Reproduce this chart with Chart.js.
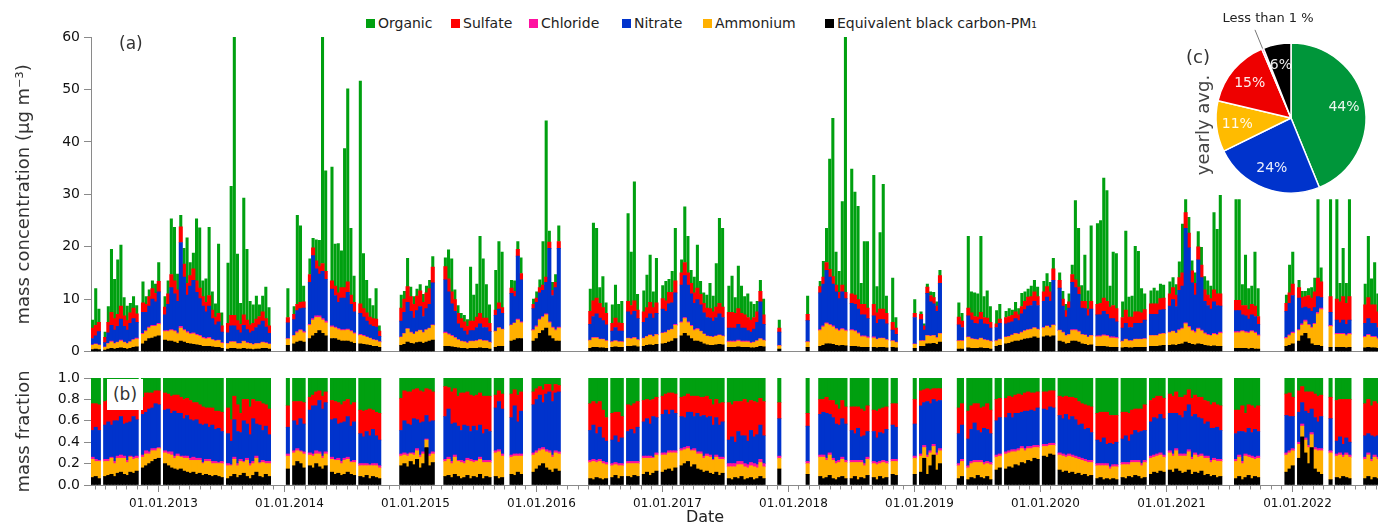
<!DOCTYPE html>
<html>
<head>
<meta charset="utf-8">
<script src="https://cdn.jsdelivr.net/npm/chart.js@4.4.1/dist/chart.umd.min.js"></script>
<style>
    html, body { margin: 0; padding: 0; background: #fff; }
    body { width: 1378px; height: 524px; position: relative; overflow: hidden;
           font-family: "DejaVu Sans", sans-serif; color: #333; }
    canvas { position: absolute; }
    #massChart { left: 0; top: 0; }
    #fracChart { left: 0; top: 360px; }
    #pieChart { left: 1196px; top: 23px; }
    .txt { position: absolute; white-space: nowrap; }
    .legend-item { position: absolute; top: 14px; height: 18px; display: flex; align-items: center;
                   font-size: 14px; color: #222; white-space: nowrap; }
    .legend-item i { display: inline-block; width: 9px; height: 9px; margin-right: 3px; }
</style>
</head>
<body>
<div id="legend"></div>
<canvas id="massChart" width="1378" height="364"></canvas>
<canvas id="fracChart" width="1378" height="164"></canvas>
<canvas id="pieChart" width="190" height="190"></canvas>

<div class="txt" style="left:119px; top:33px; font-size:17px;">(a)</div>
<div class="txt" style="left:107px; top:379px; width:36px; height:31px; line-height:31px; text-align:center; background:#fff; font-size:17px;">(b)</div>
<div class="txt" style="left:1186px; top:46px; font-size:18px;">(c)</div>
<div class="txt" style="left:1202px; top:125px; font-size:18px; color:#444; transform:translate(-50%,-50%) rotate(-90deg);">yearly avg.</div>
<div class="txt" style="left:1268px; top:17px; font-size:13px; color:#222; transform:translate(-50%,-50%);">Less than 1 %</div>
<div class="txt" style="left:705px; top:516px; font-size:16px; color:#222; transform:translate(-50%,-50%);">Date</div>

<script>
(function (Chart) {
    "use strict";

    // sampling grid: one value every 0.025 yr (about 9 days) from mid 2012
    var t0 = 2012.4375, dt = 0.025, nGrid = 409;
    var xMin = 2012.425, xMax = 2022.639;

    // grid indices without data (first..last)
    var gaps = [[3,3],[15,15],[22,22],[42,42],[57,61],[63,63],[68,68],[75,75],[84,84],[92,97],
        [109,111],[127,127],[131,132],[137,139],[149,157],[164,164],[169,169],[174,174],[180,180],
        [186,186],[201,201],[214,217],[219,226],[228,230],[240,240],[247,247],[253,253],[256,260],
        [262,262],[270,274],[277,277],[286,286],[289,289],[301,301],[306,306],[318,318],[326,326],
        [335,335],[341,341],[359,362],[371,378],[382,382],[391,392],[394,394],[400,403]];

    // (a) mass concentrations, µg m-3, one line per measurement block
    var organic = [
        1.5,7,2.5,1,3,12,7.5,10.4,11.6,3.5,2.8,1.8,2.2,1.6, 4,1.5,1.3,1.5,1.8,3.6,
        2,2.5,10.6,10.2,3,2.2,3,8.7,2.5,3,11.8,11.5,3,4.5,13,3.5,2.5,13.2,2.5,
        11.5,24.6,56,12.7,4,22.3,13.5,4.5,3.5,4.4,2.2,3,6,3.5,
        5.5, 1.5,17,14.6,3, 3,1.8,4,5,45,19.2, 21.7,8,9.4,7,26.5,36.8,12.7,5, 42.5,10.5,6.2,3.5,2.5,5.8,1,
        2.5,1.5,5.4,1.8,1.5,1.3,1.2,1.5,1.3,1.6,2,
        1.7,5.5,6.3,1.9,1.5,1,1.2,1.3,10.3,5,6.3,14.7,11.3,6.4,3.5,
        7.6,11.7,10.6,
        1.5,2,1.5,3,
        1,1.2,1.5,8.3,29.8,2.1,1.5,1.5,3,
        4.2,14.8,13.3,3,5.9,2,
        3.5,6.3,3.5,4.2,
        16.7,10.2,22.7,3,
        4,6.2,9,3,8.5, 2.5,3.7,2.5,4,10, 2.5,10.6,7,2.5,3,8.2,2.5,2,2.5,4.8,3,8.3,16.2,15,
        5,6.9,3,8.1,5.2,3.5,4.5,3.5,2.5,2,2.1,3,
        1.5,
        3.5,
        1,3,6.5,21,30.2,6.3,4,15.9,52,
        23.8,19.6,17.8,4,12,12.7, 24.6,5,14.6,23.8,3.3,
        8.4,2,
        2.6,
        0.5,0.4,0.6,0.7,1,0.8,1,
        2.7,1.5,13.7,4,4.5,4.4,14.5,4,5.2,3,
        2.5,2.8,
        1.2,1.5,1,1.8,1.2,2.5,1.8,1.5,2,2.2,1.8, 2,2.5,1.8,2,
        1.4,1.5,1.2,1.5,1.8,15.1,11.2,3,8.8,3.5,14.4, 15.4,15.8,22.9,21.1,4,10.2,10.5,
        3,15.1,3.8,4,12.5,11.5,4.6,3, 2.5,3,2.5,2.8,2.5,
        2.3,1.9,2,3,9.3,2.5,3,1.9,2,2.9,3.4,2.5,2.7,2.4,14.7,12.3,18.8,
        19.2,19.2,4,9.6,4,3.5,10.3,5.3,
        1.6,5.3,6.1, 1.4,1.2,1,1.3,2,2.6,15,2.7,
        18.5,
        19,3.5,9.2,3.8,18.5,
        4,11.7,5,8.1,3.4
    ];
    var sulfate = [
        2,2,1.8,1,2,2.5,2.2,2.3,2.5,2,1.8,2,2,1.6, 1.8,1.5,1.8,2,1.6,2,
        1.5,2,2.5,2.5,2.2,3,2.5,2.2,2,2.2,2.2,2,1.8,1.8,2,1.6,1.5,1.6,1.2,
        1.8,2,2,1.8,1.6,2,1.8,1.5,1.5,1.6,1.6,1.8,1.6,1.4,
        1, 1,1.2,1.2,1.2, 1.5,1.5,1.5,1.4,1.5,1.5, 1.6,1.8,1.8,2,2,2,1.8,1.8, 1.8,1.6,1.6,1.5,1.5,1.5,1,
        2.5,2.5,3,2.8,2.6,2.8,3,2.7,3,3,3,
        2.5,2.5,2.3,2.2,2,1.8,1.8,1.6,1.8,1.8,2,2,1.8,1.8,1.6,
        1,1.2,1.1,
        1,1,1.3,1.2,
        0.8,0.8,1,1,1,1.2,1,1,1.3,
        2.5,3,3,2.8,2.5,2.2,
        1.5,1.8,1.6,1.5,
        2,1.8,2,1.6,
        2,2,2.2,2,2, 2,2,2.2,2,2.3, 2.3,2.5,2.3,2,2,2.2,2,1.8,1.8,1.8,1.8,2,2,2,
        3,3,2.8,3,2.8,2.5,2.5,2.3,2.2,2,2,1.8,
        0.8,
        1.2,
        1.2,1.3,1.5,1.5,1.4,1.3,1.2,1.3,1.2,
        1.8,1.8,1.8,2,2,2, 2.2,2,2,2,2,
        1.5,1.2,
        0.8,
        1,0.8,1.2,1.2,1.2,1,1.5,
        1.5,1.2,1.5,1.4,1.3,1.3,1.4,1.2,1.2,1.1,
        0.7,0.8,
        1.2,1.2,1.2,1.3,1.1,1.4,1.6,1.7,1.7,1.8,1.7, 1.8,2,1.8,2.2,
        1.5,1.3,1.2,1.2,1.5,1.5,1.4,1.3,1.4,1.3,1.5, 2,2.2,2.5,2.5,2.2,2.5,2.5,
        2,2.5,2,2,2.2,2.2,2,2, 2,2,2,2.2,2.2,
        2.3,2.3,2.2,2.4,2.5,3,2.8,2.3,2.2,2.5,2.4,2.2,2,2,2.3,2.2,2.3,
        2,2,1.8,2,1.8,2,2,1.5,
        1.5,2,2.2, 2,2,2,2.5,2.5,3,3.5,3,
        3,
        4,4,4.5,4,4.5,
        3.5,4,3.5,3.5,3
    ];
    var chloride = [
        0.1,0.1,0.1,0.1,0.1,0.2,0.1,0.1,0.2,0.1,0.1,0.1,0.1,0.2, 0.2,0.2,0.2,0.2,0.2,0.2,
        0.2,0.2,0.2,0.2,0.2,0.3,0.2,0.2,0.2,0.2,0.2,0.2,0.2,0.2,0.2,0.1,0.1,0.1,0.1,
        0.1,0.1,0.1,0.1,0.1,0.1,0.1,0.1,0.1,0.1,0.1,0.1,0.1,0.1,
        0.1, 0.1,0.2,0.2,0.2, 0.2,0.3,0.3,0.3,0.3,0.3, 0.2,0.2,0.2,0.2,0.2,0.2,0.2,0.2, 0.2,0.2,0.1,0.1,0.1,0.1,0.1,
        0.1,0.1,0.1,0.1,0.1,0.1,0.1,0.1,0.1,0.1,0.1,
        0.2,0.2,0.2,0.1,0.1,0.1,0.1,0.1,0.1,0.1,0.1,0.1,0.1,0.1,0.1,
        0.1,0.1,0.1,
        0.1,0.1,0.2,0.2,
        0.2,0.2,0.2,0.2,0.2,0.2,0.2,0.2,0.2,
        0.1,0.1,0.1,0.1,0.1,0.1,
        0.1,0.1,0.1,0.1,
        0.1,0.1,0.1,0.1,
        0.1,0.1,0.1,0.1,0.1, 0.1,0.1,0.1,0.1,0.2, 0.2,0.2,0.2,0.2,0.2,0.2,0.1,0.1,0.1,0.1,0.1,0.1,0.1,0.1,
        0.2,0.2,0.2,0.2,0.2,0.2,0.2,0.1,0.1,0.1,0.1,0.1,
        0.1,
        0.1,
        0.2,0.2,0.2,0.2,0.2,0.2,0.2,0.2,0.2,
        0.2,0.2,0.2,0.2,0.2,0.2, 0.2,0.1,0.1,0.1,0.1,
        0.1,0.1,
        0.1,
        0.1,0.1,0.1,0.1,0.1,0.1,0.1,
        0.1,0.1,0.1,0.1,0.1,0.1,0.1,0.1,0.1,0.1,
        0.1,0.1,
        0.1,0.1,0.1,0.1,0.1,0.1,0.1,0.1,0.1,0.1,0.1, 0.1,0.1,0.1,0.1,
        0.1,0.1,0.1,0.1,0.2,0.2,0.2,0.1,0.1,0.1,0.1, 0.2,0.2,0.2,0.2,0.2,0.2,0.2,
        0.1,0.1,0.1,0.1,0.1,0.1,0.1,0.1, 0.1,0.1,0.1,0.1,0.1,
        0.1,0.1,0.1,0.2,0.2,0.2,0.2,0.2,0.2,0.2,0.2,0.2,0.2,0.1,0.2,0.2,0.2,
        0.2,0.2,0.2,0.2,0.2,0.2,0.2,0.2,
        0.2,0.2,0.2, 0.2,0.3,0.3,0.2,0.2,0.2,0.3,0.3,
        0.2,
        0.2,0.2,0.2,0.2,0.2,
        0.2,0.2,0.2,0.2,0.2
    ];
    var nitrate = [
        1.2,1.5,2.5,0.8,2,3,2.5,3,4,3,2.5,3.5,4,3, 4,3.5,4,5,4.5,6,
        3,5,8,7,6,16,10,7,9,10,8,7,6,5,6,4,3,3.5,2,
        2,3,3,2.5,2,3,2.5,2,2.5,3,3.5,4,3,2,
        3, 3,4,4,4.5, 8,12,9,8,9,8, 7,6,5,6,6,7,5,4, 4,3.5,3,2.5,2.5,2.5,1,
        3,4,5,4,3,4,4.5,3,4,4.5,8,
        10,8,6,5,3,2.5,2,1.5,2,2,2.5,3,2.5,2.5,2,
        3,3.5,3,
        6,5,12,8,
        4,4.5,5,5,6,14,6,8,15,
        3,4,4.5,4,3.5,3,
        2,2.5,2,2,
        5,4.5,5,4,
        3,3.5,4,3.5,4, 4.5,4,5,5,6, 7,8,7,6,5,5.5,5,4,3.5,3.5,3,3.5,4,3.5,
        2.5,2.5,2.5,3,2.5,2.5,2,2,2.5,3.5,7,3,
        2.5,
        4,
        7,8,10,9,8,7,6,7,6,
        5,5,4.5,4,4,3.5, 4,3,3.5,3.5,3,
        2,1.5,
        5,
        4,2,8,6.5,6,5,9.5,
        3,2.5,4,3.5,3,3,3.5,3,3,2.5,
        2.5,3,
        2.5,2.6,2.5,2.8,2.5,3.5,4,4.5,4.5,5,4.5, 5,5.5,5,8.5,
        8,5,3.5,5,9,8,7,5,5,4,5, 4,4,4.5,4,3.5,3.5,3,
        2.5,3,2.5,2.5,3,3,3,3.5, 4,4,4,4.5,4.5,
        5,6,5,7.5,8,18,15,9,7,13,10,6,5.5,5,6,5.5,5,
        4,4,3,3,2.5,3,3,2,
        5,6,7, 6,3,2.5,3,3,3,3,2,
        2.5,
        2.5,2,2.5,2,2.5,
        2.5,3,2.5,2.5,2
    ];
    var ammonium = [
        0.8,0.9,0.8,0.5,1,1.2,1,1.1,1.3,1.1,1,1.2,1.4,1.5, 1.8,1.8,2,2.2,2,2.2,
        1.6,1.8,2,2,1.8,2.5,2.2,2,1.8,2,1.8,1.7,1.5,1.4,1.5,1.3,1.2,1.3,1,
        1,1.2,1.2,1,1,1.3,1.1,1,0.9,1,1,1.1,1,0.9,
        1.2, 1.5,1.8,2,1.8, 2.5,3,3,2.5,2.5,2.5, 2.2,2,2,2,2,2.1,2,1.8, 1.6,1.5,1.4,1.3,1.2,1.1,1,
        1.5,2,2.5,2,1.8,2,2.2,2,2.3,2.4,2.8,
        2.5,2.2,2,1.8,1.5,1.3,1.2,1.1,1.3,1.3,1.4,1.5,1.4,1.4,1.2,
        3,3.5,3.2,
        3,3.2,3.5,3,
        2,2.2,2.5,2.5,2.5,2.5,2,2,2.5,
        1.5,1.8,1.8,1.6,1.6,1.4,
        1,1.1,1,1,
        1.5,1.4,1.5,1.3,
        1.5,1.6,1.8,1.6,1.8, 2,2,2.2,2.2,2.5, 2.5,2.8,2.5,2.3,2,2.2,2,1.8,1.6,1.6,1.5,1.6,1.7,1.6,
        1,1,1,1.1,1,1,1,0.9,1,1.2,1.4,1.2,
        0.6,
        1,
        3,3.5,3.8,3.5,3.3,3,2.8,3,2.8,
        3,2.8,2.5,2,2,1.8, 1.8,1.6,1.7,1.7,1.5,
        1.2,1,
        0.8,
        1,1,1.5,1.4,1.4,1.2,1.6,
        1.5,1.5,2,1.8,1.7,1.6,1.8,1.6,1.5,1.4,
        1,1.1,
        1.2,1.2,1.3,1.4,1.3,1.4,1.5,1.6,1.6,1.7,1.6, 1.7,1.8,1.7,2,
        2,1.8,1.5,1.6,2,2,1.9,1.7,1.7,1.5,1.7, 1.8,1.8,2,2,1.8,1.8,1.7,
        1.2,1.5,1.3,1.3,1.5,1.5,1.5,1.6, 2,2,2,2.2,2.2,
        2.4,2.5,2.3,2.6,2.8,3.5,3,2.5,2.3,2.8,2.5,2.2,2,2,2.2,2.1,2.5,
        3,3,3.2,3,3,3.2,3,2.5,
        1.5,1.8,2, 2,2,2.2,2.5,3,4,6,7,
        4,
        2.5,2.5,2.5,2.3,2.5,
        2,2.3,2,2,1.8
    ];
    var blackCarbon = [
        0.4,0.5,0.4,0.3,0.5,0.6,0.5,0.6,0.7,0.6,0.5,0.6,0.8,0.9, 1.5,2,2.5,2.6,2.8,3,
        2.2,2,2,1.8,1.6,2,1.8,1.6,1.5,1.4,1.3,1.2,1,1,1,0.9,0.8,0.8,0.6,
        0.5,0.6,0.6,0.5,0.5,0.6,0.5,0.5,0.4,0.5,0.5,0.6,0.6,0.5,
        1.2, 1.5,1.8,2,1.8, 2.5,3,3.5,4,3.5,3, 2.5,2.5,2.2,2,2,2,1.8,1.6, 1.5,1.4,1.3,1.2,1,1,0.8,
        1.2,1.4,1.8,1.6,1.5,1.7,1.8,1.6,1.8,2,2.2,
        1,1,0.9,0.8,0.7,0.6,0.6,0.5,0.6,0.6,0.6,0.7,0.6,0.6,0.5,
        0.8,1,1,
        2,2.2,2.5,2.5,
        2,2.5,3.5,4,4.5,3,2.5,2,2,
        0.6,0.8,0.8,0.7,0.7,0.6,
        0.8,0.9,0.8,0.8,
        1,1,1.1,0.9,
        1,1.2,1.3,1.2,1.4, 1.5,1.6,1.8,2,2.5, 3,3.5,3,2.5,2,2,1.8,1.5,1.3,1.2,1.2,1.3,1.4,1.3,
        0.8,0.8,0.8,0.9,0.8,0.8,0.8,0.7,0.7,0.8,1,0.9,
        0.5,
        0.8,
        1,1.2,1.5,1.5,1.4,1.2,1.1,1.2,1.1,
        1,1,0.9,0.8,0.8,0.8, 0.8,0.7,0.8,0.8,0.7,
        0.8,0.7,
        0.6,
        1,1,1.5,1.5,1.6,1.4,1.8,
        0.5,0.5,0.7,0.6,0.6,0.6,0.7,0.6,0.6,0.5,
        1,1.2,
        1.5,1.6,1.8,2,2,2.2,2.4,2.5,2.6,2.8,2.6, 2.8,3,2.8,3,
        2,1.8,1.5,1.6,2,2,1.8,1.5,1.4,1.2,1.3, 1,1,1,0.9,0.8,0.8,0.8,
        0.7,0.8,0.7,0.7,0.8,0.8,0.8,0.8, 1,1,1,1.1,1.2,
        1.2,1.3,1.2,1.4,1.5,1.8,1.6,1.4,1.3,1.5,1.4,1.2,1.1,1,1.1,1,1,
        0.6,0.6,0.6,0.6,0.5,0.6,0.5,0.5,
        1,1.2,1.5, 2,3,3.5,2.5,1.5,1.2,1.2,1,
        0.8,
        0.8,0.8,0.8,0.7,0.8,
        0.7,0.8,0.7,0.7,0.6
    ];

    // (b) typical mass fractions, percent; organic is the rest up to 100
    var sulfatePct = [
        25,22,24, 22,20,24,18,22,20,22,21,19,20,22, 16,18,15,14,12,13,
        16,14,16,15,17,15,18,16,18,17,16,18,17,15,18,16,17,16,18,
        24,20,22,25,18,20,23,26,18,21,22,25,20,24,
        20, 18,22,16,20, 12,10,13,9,12,10, 18,16,20,17,19,16,20,18, 22,24,20,25,18,22,25,
        30,28,30,31,27,29,30,28,25,30,27,
        28,20,30,32,28,35,30,32,34,28,33,30,35,31,33,
        12,10,14,
        22,15,25,18,
        12,10,8,12,9,7,10,8,6,
        25,22,28,24,26,22,
        25,22,28,20,
        25,22,28,24,
        20,18,22,16,19, 17,15,20,16,18, 18,20,17,15,19,16,18,17,20,16,19,17,20,18,
        35,30,38,28,32,34,36,28,33,30,25,32,
        15,
        12,
        14,12,15,13,16,18,15,17,16,
        22,25,20,26,23,24,20,25,22,24,21,
        20,22,
        23,
        14,12,12,13,10,12,11,
        24,20,26,22,18,25,23,20,24,22,
        20,18,
        18,16,19,17,18,16,17,18,16,17,15, 16,17,15,16,
        18,20,17,21,18,20,22,19,23,21,24, 25,28,24,30,26,27,25,
        25,22,26,23,20,22,21,24, 20,18,21,17,19,
        18,16,20,17,19,15,14,17,18,19,20,22,19,22,24,21,23,
        22,20,24,18,22,25,20,24,
        20,22,18, 20,15,18,20,16,22,24,20,
        20,
        38,35,42,36,40,
        30,32,28,33,30
    ];
    var chloridePct = [
        2,2,1, 2,2,1,2,2,3,2,2,1,2,2, 2,3,2,2,2,1,
        2,2,3,2,2,1,2,2,2,3,2,2,1,2,2,2,2,1,2,
        2,1,2,2,2,1,2,2,2,2,1,2,2,2,
        2, 2,2,1,2, 2,2,3,2,2,2, 2,1,2,2,2,2,1,2, 2,2,2,1,2,2,2,
        2,2,2,1,2,2,2,2,1,2,2,
        2,2,2,2,1,2,2,2,2,2,1,2,2,2,2,
        2,2,2,
        2,2,2,2,
        2,2,2,2,2,2,2,2,2,
        2,2,2,2,2,2,
        2,2,2,2,
        2,2,2,2,
        2,2,2,1,2, 2,2,2,2,2, 2,2,2,1,2,2,2,2,2,2,1,2,2,2,
        3,3,3,3,3,3,3,3,3,3,3,3,
        2,
        2,
        2,2,2,2,2,2,2,2,2,
        2,2,2,2,2,2,2,2,2,2,2,
        2,2,
        2,
        2,2,2,2,2,2,2,
        2,2,2,2,2,2,2,2,2,2,
        2,2,
        2,2,2,2,2,2,2,2,2,2,2, 2,2,2,2,
        2,2,2,2,2,2,2,2,2,2,2, 2,2,2,2,2,2,2,
        2,2,2,2,2,2,2,2, 2,2,2,2,2,
        2,2,2,2,2,2,2,2,2,2,2,2,2,2,2,2,2,
        2,2,2,2,2,2,2,2,
        2,2,2, 2,2,2,2,2,2,2,2,
        2,
        2,2,2,2,2,
        2,2,2,2,2
    ];
    var nitratePct = [
        25,30,28, 32,35,30,38,33,36,30,35,32,38,34, 38,36,40,38,42,40,
        38,40,36,42,38,40,35,38,36,34,36,32,35,33,30,34,30,32,28,
        28,22,35,30,25,38,32,27,40,30,35,28,33,25,
        25, 28,22,30,26, 40,45,42,48,44,46, 35,38,32,36,34,38,33,36, 28,25,30,27,32,26,24,
        22,30,28,26,32,27,30,28,22,30,29,
        40,45,35,30,32,28,34,30,26,32,28,30,25,29,27,
        40,45,42,
        35,45,30,40,
        45,48,50,42,52,55,50,54,56,
        28,32,25,30,22,20,
        22,25,20,24,
        28,30,26,32,
        32,35,30,38,33, 36,40,34,38,35, 30,28,32,35,30,36,33,38,34,36,32,35,30,33,
        22,25,20,28,24,26,22,30,25,28,32,26,
        35,
        33,
        38,40,42,36,38,35,33,36,34,
        28,25,30,22,26,24,28,23,27,25,30,
        32,30,
        30,
        45,40,50,44,42,48,45,
        28,32,25,30,35,28,26,32,30,27,
        32,34,
        32,35,30,34,33,32,35,33,34,32,35, 33,32,34,33,
        35,33,38,32,36,34,30,32,28,30,26, 22,20,24,18,22,19,21,
        22,25,20,24,28,26,30,28, 32,35,33,36,34,
        35,38,33,36,34,40,42,38,36,35,33,30,32,30,28,30,27,
        24,22,28,20,25,22,26,23,
        35,32,30, 28,20,25,30,22,28,25,30,
        30,
        12,15,10,14,12,
        20,18,22,17,20
    ];
    var ammoniumPct = [
        17,14,16, 14,13,15,12,14,13,15,12,14,13,12, 10,11,9,10,8,9,
        10,11,12,10,13,11,12,13,12,11,13,12,11,12,13,12,11,12,13,
        12,10,14,11,13,10,15,12,11,13,12,14,10,12,
        12, 12,10,11,13, 10,11,9,12,10,11, 12,13,12,11,13,12,11,12, 10,11,9,12,10,11,10,
        9,8,10,7,9,8,10,9,7,9,8,
        14,15,13,16,14,15,13,14,16,13,15,14,15,13,14,
        22,25,20,
        16,18,15,17,
        16,15,14,13,15,16,14,15,16,
        15,17,14,16,15,13,
        11,10,12,10,
        12,13,11,12,
        15,13,16,14,15, 16,14,15,17,14, 14,13,12,15,13,14,15,13,14,15,13,14,15,13,
        11,12,10,13,11,12,10,11,12,10,13,11,
        10,
        10,
        18,20,16,19,17,15,14,16,15,
        15,13,16,14,12,15,13,14,12,15,13,
        12,13,
        15,
        15,10,16,12,8,14,12,
        12,14,11,13,15,12,14,13,12,14,
        12,11,
        14,13,15,12,14,13,12,11,12,10,11, 9,10,8,9,
        14,15,13,16,14,15,13,14,12,13,12, 12,11,13,12,10,11,12,
        12,13,11,14,12,13,12,14, 15,14,16,15,14,
        16,15,17,14,16,15,17,14,16,15,14,16,15,13,14,15,14,
        16,18,15,20,17,19,16,18,
        16,15,14, 13,10,12,15,12,18,20,22,
        25,
        20,22,18,21,20,
        18,20,17,19,18
    ];
    var blackCarbonPct = [
        7,8,6, 8,9,10,8,11,12,10,9,12,11,13, 16,18,20,22,24,25,
        20,18,16,15,14,15,13,12,11,12,10,11,9,10,9,8,9,8,7,
        6,8,10,7,9,11,8,6,9,12,8,7,10,8,
        15, 18,22,20,16, 18,16,20,17,15,18, 12,10,11,9,10,12,10,9, 8,7,9,6,8,7,6,
        18,20,17,22,19,24,16,20,35,18,21,
        8,9,7,10,8,6,7,9,6,8,7,10,6,8,7,
        8,6,7,
        10,9,12,10,
        12,15,18,20,16,14,12,15,13,
        6,5,7,6,5,6,
        7,9,6,8,
        8,7,9,8,
        10,12,9,11,13, 12,14,15,13,16, 18,20,22,17,19,15,14,12,13,11,10,12,9,11,
        6,5,7,6,8,5,6,7,5,6,8,6,
        15,
        10,
        8,6,7,9,6,5,7,8,6,
        6,8,5,7,6,9,7,5,8,6,7,
        10,9,
        10,
        12,25,10,18,28,14,20,
        6,8,5,7,6,9,7,6,8,5,
        14,16,
        15,17,16,19,18,21,20,23,22,25,24, 27,26,29,28,
        14,12,13,11,12,10,11,9,10,8,9, 6,7,5,6,5,6,5,
        7,6,8,7,9,8,6,7, 10,12,11,13,12,
        14,12,15,13,11,12,14,10,12,11,13,9,10,8,9,7,8,
        6,8,5,7,9,6,8,7,
        12,15,18, 25,45,30,20,35,15,12,10,
        5,
        7,6,8,7,6,
        6,8,5,7,6
    ];

    // legend order
    var seriesNames = ['Organic', 'Sulfate', 'Chloride', 'Nitrate', 'Ammonium', 'Equivalent black carbon-PM\u2081'];
    var seriesValues = [organic, sulfate, chloride, nitrate, ammonium, blackCarbon];
    var seriesPct = [null, sulfatePct, chloridePct, nitratePct, ammoniumPct, blackCarbonPct];
    var seriesColors = ['#00a010', '#ff0000', '#ff10a0', '#0033cc', '#ffb000', '#000000'];
    // stacking order, bottom to top
    var stackOrder = [5, 4, 2, 3, 1, 0];
    var legendX = [366, 451, 529, 622, 703, 825];

    // yearly average shares (%) for the pie, clockwise from the top
    var pieLabels = ['Organic', 'Nitrate', 'Ammonium', 'Sulfate', 'Chloride', 'Equivalent black carbon-PM1'];
    var pieValues = [44, 24, 11, 15, 0.4, 6];
    var pieText = ['44%', '24%', '11%', '15%', '', '6%'];
    var pieColors = ['#00963a', '#0033cc', '#ffbb00', '#ee0000', '#ff10a0', '#000000'];

    var axisGrey = '#8a8a8a';
    Chart.defaults.font.family = '"DejaVu Sans", sans-serif';
    Chart.defaults.color = '#111';

    function sampleTimes () {
        var skip = {}, times = [], i, g;
        for (g = 0; g < gaps.length; g++) {
            for (i = gaps[g][0]; i <= gaps[g][1]; i++) skip[i] = true;
        }
        for (i = 0; i < nGrid; i++) {
            if (!skip[i]) times.push(+(t0 + i * dt).toFixed(4));
        }
        return times;
    }

    var times = sampleTimes();
    seriesValues.concat(seriesPct.slice(1)).forEach(function (arr, k) {
        if (arr.length !== times.length) console.warn('length mismatch', k, arr.length, times.length);
    });

    // fraction of series k at sample j; organic takes what the others leave
    function fraction (k, j) {
        if (k !== 0) return seriesPct[k][j] / 100;
        var rest = 100;
        for (var s = 1; s < seriesPct.length; s++) rest -= seriesPct[s][j];
        return rest / 100;
    }

    function buildDatasets (asFraction) {
        return stackOrder.map(function (k) {
            return {
                label: seriesNames[k],
                backgroundColor: seriesColors[k],
                borderWidth: 0,
                // organic peaks drawn as thinner needles in panel (a)
                barThickness: (!asFraction && k === 0) ? 2.4 : 3.4,
                data: times.map(function (t, j) {
                    return { x: t, y: asFraction ? fraction(k, j) : seriesValues[k][j] };
                })
            };
        });
    }

    function yAxis (max, step, title, fmt) {
        return {
            stacked: true, min: 0, max: max,
            ticks: { stepSize: step, padding: 4, font: { size: 14 }, color: '#111', callback: fmt },
            grid: { drawOnChartArea: false, tickLength: 7, color: axisGrey },
            border: { color: axisGrey },
            title: { display: true, text: title, color: '#333', font: { size: 18 }, padding: { top: 14, bottom: 0 } },
            afterFit: function (scale) { scale.width = 91; }
        };
    }

    function isYear (v) { return Math.abs(v - Math.round(v)) < 1e-6; }

    var quiet = { legend: { display: false }, tooltip: { enabled: false } };

    new Chart(document.getElementById('massChart'), {
        type: 'bar',
        data: { datasets: buildDatasets(false) },
        options: {
            responsive: false, animation: false, events: [],
            layout: { padding: { top: 37, right: 0, bottom: 0, left: 0 } },
            plugins: quiet,
            scales: {
                x: {
                    type: 'linear', min: xMin, max: xMax, stacked: true, offset: false,
                    ticks: { display: false },
                    grid: { display: false, drawTicks: false },
                    border: { display: true, color: axisGrey },
                    afterFit: function (scale) { scale.height = 10; }
                },
                y: yAxis(60, 10, 'mass concentration (\u00b5g m\u207b\u00b3)', function (v) { return v; })
            }
        }
    });

    new Chart(document.getElementById('fracChart'), {
        type: 'bar',
        data: { datasets: buildDatasets(true) },
        options: {
            responsive: false, animation: false, events: [],
            layout: { padding: { top: 18, right: 0, bottom: 0, left: 0 } },
            plugins: quiet,
            scales: {
                x: {
                    type: 'linear', min: xMin, max: xMax, stacked: true, offset: false,
                    afterBuildTicks: function (scale) {
                        var ticks = [], y, m, v;
                        for (y = 2012; y <= 2022; y++) {
                            for (m = 0; m < 12; m++) {
                                v = y + m / 12;
                                if (v >= xMin && v <= xMax) ticks.push({ value: v });
                            }
                        }
                        scale.ticks = ticks;
                    },
                    ticks: {
                        autoSkip: false, maxRotation: 0, padding: 5, font: { size: 12 }, color: '#111',
                        callback: function (v) { return isYear(v) ? '01.01.' + Math.round(v) : ''; }
                    },
                    grid: {
                        drawOnChartArea: false, tickLength: 7, color: axisGrey,
                        tickBorderDash: function (ctx) {
                            return ctx.tick && isYear(ctx.tick.value) ? [] : [3.5, 40];
                        }
                    },
                    border: { display: true, color: axisGrey },
                    afterFit: function (scale) { scale.height = 39; }
                },
                y: yAxis(1, 0.2, 'mass fraction', function (v) { return v.toFixed(1); })
            }
        }
    });

    var pieLabelPlugin = {
        id: 'pieLabels',
        afterDatasetsDraw: function (chart) {
            var ctx = chart.ctx;
            ctx.save();
            ctx.font = '14px "DejaVu Sans"';
            ctx.textAlign = 'center';
            ctx.textBaseline = 'middle';
            chart.getDatasetMeta(0).data.forEach(function (arc, i) {
                var p = arc.getProps(['x', 'y', 'startAngle', 'endAngle', 'outerRadius'], true);
                var mid = (p.startAngle + p.endAngle) / 2;
                if (pieText[i]) {
                    ctx.fillStyle = 'rgba(255,255,255,0.92)';
                    ctx.fillText(pieText[i], p.x + Math.cos(mid) * p.outerRadius * 0.72,
                        p.y + Math.sin(mid) * p.outerRadius * 0.72);
                } else {
                    // leader line to the "less than 1 %" note
                    ctx.strokeStyle = '#777';
                    ctx.lineWidth = 1;
                    ctx.beginPath();
                    ctx.moveTo(p.x + Math.cos(mid) * p.outerRadius, p.y + Math.sin(mid) * p.outerRadius);
                    ctx.lineTo(p.x + Math.cos(mid) * p.outerRadius * 1.27, p.y + Math.sin(mid) * p.outerRadius * 1.27);
                    ctx.stroke();
                }
            });
            ctx.restore();
        }
    };

    new Chart(document.getElementById('pieChart'), {
        type: 'pie',
        data: {
            labels: pieLabels,
            datasets: [{ data: pieValues, backgroundColor: pieColors, borderColor: '#fff', borderWidth: 1.5 }]
        },
        options: { responsive: false, animation: false, events: [], radius: 75, plugins: quiet },
        plugins: [pieLabelPlugin]
    });

    // html legend
    var legend = document.getElementById('legend');
    seriesNames.forEach(function (name, k) {
        var item = document.createElement('div');
        item.className = 'legend-item';
        item.style.left = legendX[k] + 'px';
        item.innerHTML = '<i style="background:' + seriesColors[k] + '"></i>' + name;
        legend.appendChild(item);
    });
})(Chart);
</script>
</body>
</html>
